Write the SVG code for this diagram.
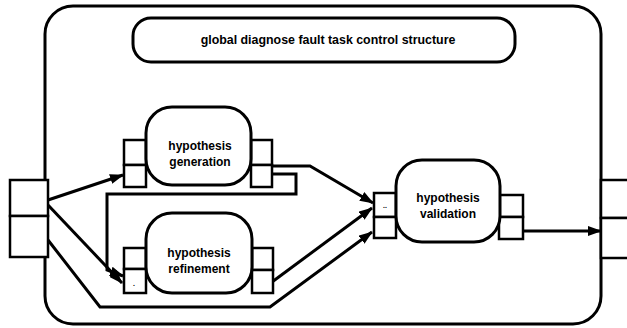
<svg xmlns="http://www.w3.org/2000/svg" width="627" height="328" viewBox="0 0 627 328">
<style>
.frame{fill:none;stroke:#000;stroke-width:3}
.node{fill:#fff;stroke:#000;stroke-width:3}
.port{fill:#fff;stroke:#000;stroke-width:2.5}
.conn{fill:none;stroke:#000;stroke-width:3;stroke-linejoin:miter}
.t{font-family:"Liberation Sans",Arial,sans-serif;font-weight:bold;font-size:12px;text-anchor:middle;fill:#000}
</style>
<defs>
<marker id="ah" viewBox="0 0 14 10" refX="13" refY="5" markerWidth="14" markerHeight="10" markerUnits="userSpaceOnUse" orient="auto">
<path d="M0,0 L14,5 L0,10 Z" fill="#000"/>
</marker>
</defs>
<rect width="627" height="328" fill="#fff"/>
<g id="frame">
<rect class="frame" x="45" y="6" width="556" height="318" rx="28" ry="28"/>
</g>
<g id="title">
<rect class="node" x="133" y="18" width="382" height="44" rx="18" ry="18"/>
<text class="t" x="328" y="44" style="font-size:12.4px">global diagnose fault task control structure</text>
</g>
<g id="outer-left-ports">
<rect class="port" x="10" y="180" width="38" height="36"/>
<rect class="port" x="10" y="216" width="38" height="41"/>
</g>
<g id="outer-right-ports">
<rect class="port" x="601" y="180" width="40" height="38"/>
<rect class="port" x="601" y="218" width="40" height="40"/>
</g>
<g id="connectors">
<path class="conn" d="M48,200 L123,175" marker-end="url(#ah)"/>
<path class="conn" d="M48,205 L122,283" marker-end="url(#ah)"/>
<path class="conn" d="M48,240 L100,307 L270,307 L372,232" marker-end="url(#ah)"/>
<path class="conn" d="M272,166 L310,166 L373,203" marker-end="url(#ah)"/>
<path class="conn" d="M272,174 L296,174 L296,194 L107,194 L107,270 L123,276" marker-end="url(#ah)"/>
<path class="conn" d="M272,282 L372,208" marker-end="url(#ah)"/>
<path class="conn" d="M523,231 L601,231" marker-end="url(#ah)"/>
</g>
<g id="hypothesis-generation">
<rect class="port" x="124" y="140" width="22" height="25"/>
<rect class="port" x="124" y="165" width="22" height="22"/>
<rect class="port" x="251" y="140" width="21" height="25"/>
<rect class="port" x="251" y="165" width="21" height="22"/>
<rect class="node" x="146" y="107" width="105" height="78" rx="26" ry="26"/>
<text class="t" x="200" y="150">hypothesis</text>
<text class="t" x="200" y="166">generation</text>
</g>
<g id="hypothesis-refinement">
<rect class="port" x="124" y="248" width="22" height="21"/>
<rect class="port" x="124" y="269" width="22" height="24"/>
<rect class="port" x="252" y="248" width="21" height="22"/>
<rect class="port" x="252" y="270" width="21" height="23"/>
<rect class="node" x="146" y="213" width="106" height="80" rx="26" ry="26"/>
<text class="t" x="199" y="257">hypothesis</text>
<text class="t" x="199" y="273">refinement</text>
<text class="t" x="134" y="286" style="font-size:7px">.</text>
</g>
<g id="hypothesis-validation">
<rect class="port" x="374" y="193" width="22" height="24"/>
<rect class="port" x="374" y="217" width="22" height="21"/>
<rect class="port" x="499" y="195" width="24" height="22"/>
<rect class="port" x="499" y="217" width="24" height="22"/>
<rect class="node" x="396" y="160" width="104" height="82" rx="26" ry="26"/>
<text class="t" x="448" y="202">hypothesis</text>
<text class="t" x="448" y="218">validation</text>
<text class="t" x="385" y="208" style="font-size:7px">..</text>
</g>
</svg>
